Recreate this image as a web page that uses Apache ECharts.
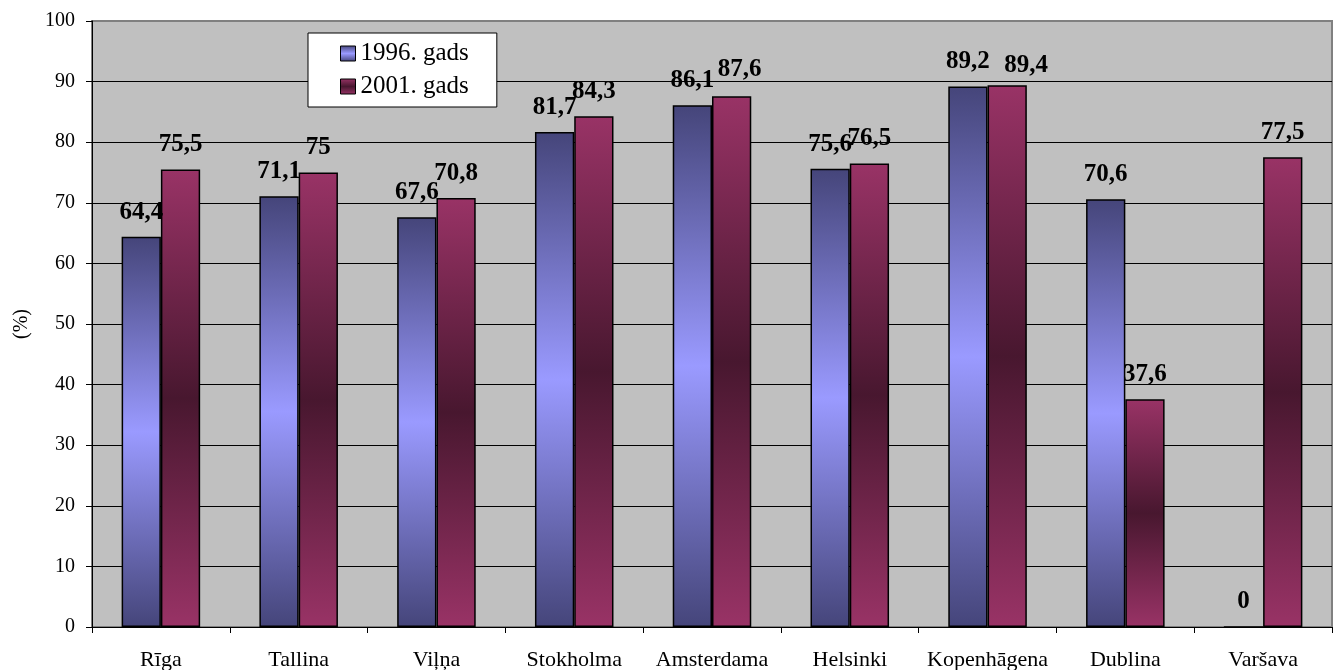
<!DOCTYPE html>
<html>
<head>
<meta charset="utf-8">
<script src="https://cdn.jsdelivr.net/npm/echarts@6/dist/echarts.min.js"></script>
<style>
  html, body { margin: 0; padding: 0; background: #fff; }
  #chart { width: 1337px; height: 670px; }
</style>
</head>
<body>
<div id="chart"></div>
<script>
// Cities and shares (%) for the two survey years
const cities = ['Rīga', 'Tallina', 'Viļņa', 'Stokholma', 'Amsterdama', 'Helsinki', 'Kopenhāgena', 'Dublina', 'Varšava'];
const values1996 = [64.4, 71.1, 67.6, 81.7, 86.1, 75.6, 89.2, 70.6, 0];
const values2001 = [75.5, 75, 70.8, 84.3, 87.6, 76.5, 89.4, 37.6, 77.5];
const seriesNames = ['1996. gads', '2001. gads'];
const yTicks = [0, 10, 20, 30, 40, 50, 60, 70, 80, 90, 100];

const serif = '"Liberation Serif", "Times New Roman", serif';

function vGrad(edge, mid) {
  return new echarts.graphic.LinearGradient(0, 0, 0, 1, [
    { offset: 0, color: edge },
    { offset: 0.5, color: mid },
    { offset: 1, color: edge }
  ]);
}

const fmt = p => String(p.value).replace('.', ',');

const labelStyle = {
  show: true,
  position: 'top',
  distance: 12,
  formatter: fmt,
  fontFamily: serif,
  fontWeight: 'bold',
  fontSize: 25,
  color: '#000'
};

// nudge the 2001 label aside where both labels would collide
const nudged2001 = { 'Kopenhāgena': [19, 5], 'Amsterdama': [8, -2] };
const data2001 = values2001.map((v, i) =>
  nudged2001[cities[i]] ? { value: v, label: { offset: nudged2001[cities[i]] } } : v);

// top line of the plot frame stays grey
const gridLineColors = yTicks.map((t, i) => i === yTicks.length - 1 ? '#808080' : '#000');

const chart = echarts.init(document.getElementById('chart'), null, { renderer: 'canvas' });
chart.setOption({
  animation: false,
  backgroundColor: '#fff',
  grid: {
    left: 92, right: 5, top: 21, bottom: 43,
    outerBoundsMode: 'none',
    containLabel: false,
    show: true,
    backgroundColor: '#c0c0c0',
    borderColor: '#808080',
    borderWidth: 2
  },
  legend: {
    data: seriesNames,
    orient: 'vertical',
    left: 308,
    top: 33,
    backgroundColor: '#fff',
    borderColor: '#000',
    borderWidth: 1,
    padding: [8, 28, 8, 32],
    icon: 'rect',
    itemWidth: 15,
    itemHeight: 15,
    itemGap: 8,
    itemStyle: { borderColor: '#000', borderWidth: 1 },
    textStyle: { fontFamily: serif, fontSize: 25, color: '#000' }
  },
  xAxis: {
    type: 'category',
    data: cities,
    axisLine: { lineStyle: { color: '#000', width: 1 } },
    axisTick: { show: true, length: 6, lineStyle: { color: '#000' } },
    axisLabel: { interval: 0, fontFamily: serif, fontSize: 22, color: '#000', margin: 22 }
  },
  yAxis: {
    type: 'value',
    min: yTicks[0],
    max: yTicks[yTicks.length - 1],
    interval: 10,
    name: '(%)',
    nameLocation: 'middle',
    nameRotate: 90,
    nameGap: 60,
    nameTextStyle: { fontFamily: serif, fontSize: 20, color: '#000' },
    axisLine: { show: true, lineStyle: { color: '#000', width: 1 } },
    axisTick: { show: true, length: 6, lineStyle: { color: '#000' } },
    axisLabel: { fontFamily: serif, fontSize: 20, color: '#000', margin: 17 },
    splitLine: { show: true, lineStyle: { color: gridLineColors, width: 1 } }
  },
  series: [
    {
      name: seriesNames[0],
      type: 'bar',
      data: values1996,
      barGap: '0%',
      barCategoryGap: '43%',
      itemStyle: { color: vGrad('#45457a', '#9a9aff'), borderColor: '#000', borderWidth: 1.5 },
      label: labelStyle
    },
    {
      name: seriesNames[1],
      type: 'bar',
      data: data2001,
      barGap: '0%',
      barCategoryGap: '43%',
      itemStyle: { color: vGrad('#993366', '#48172f'), borderColor: '#000', borderWidth: 1.5 },
      label: labelStyle
    }
  ]
});
</script>
</body>
</html>
